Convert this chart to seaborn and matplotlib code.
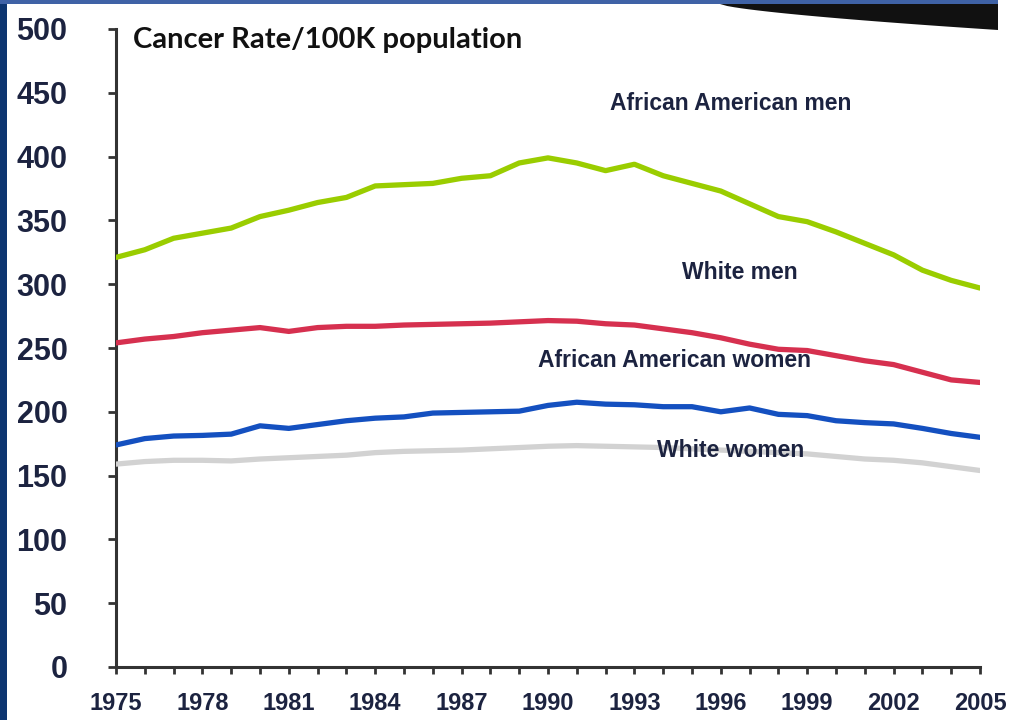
import numpy as np
import pandas as pd
import matplotlib
matplotlib.use("Agg")
import matplotlib.pyplot as plt
from matplotlib.patches import Rectangle, Polygon
import seaborn as sns

# Annual cancer incidence per 100K population, 1975-2005
years = list(range(1975, 2006))
green_series = [321, 327, 336, 340, 344, 353, 358, 364, 368, 377, 378, 379, 383, 385, 395,
                399, 395, 389, 394, 385, 379, 373, 363, 353, 349, 341, 332, 323, 311, 303, 297]
red_series = [254, 257, 259, 262, 264, 266, 263, 266, 267, 267, 268, 268.5, 269, 269.5, 270.5,
              271.5, 271, 269, 268, 265, 262, 258, 253, 249, 248, 244, 240, 237, 231, 225, 223]
blue_series = [174, 179, 181, 181.5, 182.5, 189, 187, 190, 193, 195, 196, 199, 199.5, 200, 200.5,
               205, 207.5, 206, 205.5, 204, 204, 200, 203, 198, 197, 193, 191.5, 190.5, 187, 183, 180]
gray_series = [159, 161, 162, 162, 161.5, 163, 164, 165, 166, 168, 169, 169.5, 170, 171, 172,
               173, 173.5, 173, 172.5, 172, 171, 170, 169, 168, 167, 165, 163, 162, 160, 157, 154]

series_names = ["green", "red", "blue", "gray"]
series_colors = ["#9acd00", "#d6304f", "#1450c0", "#d2d2d2"]

# Text annotations placed in the plot area
label_texts = ["African American men", "White men", "African American women", "White women"]
label_x = [1992.15, 1994.65, 1989.65, 1993.8]
label_y = [442, 309, 240, 170]

title_text = "Cancer Rate/100K population"
y_ticks = list(range(0, 501, 50))
x_tick_years = list(range(1975, 2006, 3))

df = pd.DataFrame({
    "year": years * 4,
    "rate": green_series + red_series + blue_series + gray_series,
    "series": sum([[n] * len(years) for n in series_names], []),
})

sns.set_theme(style="ticks")
plt.rcParams["font.family"] = ["Liberation Sans", "DejaVu Sans"]

fig = plt.figure(figsize=(10.17, 7.2), dpi=100)
fig.patch.set_facecolor("white")
ax = fig.add_axes([116 / 1017, 1 - 667 / 720, (980 - 116) / 1017, (667 - 29) / 720])
ax.set_facecolor("white")

sns.lineplot(data=df, x="year", y="rate", hue="series", hue_order=series_names,
             palette=dict(zip(series_names, series_colors)), linewidth=3.8,
             legend=False, ax=ax, zorder=3)

ax.set_xlim(1975, 2005)
ax.set_ylim(0, 500)
ax.set_xlabel("")
ax.set_ylabel("")

for side in ("top", "right"):
    ax.spines[side].set_visible(False)
for side in ("left", "bottom"):
    ax.spines[side].set_color("#333333")
    ax.spines[side].set_linewidth(2.2)

text_color = "#1c2340"
ax.set_yticks(y_ticks)
ax.set_yticklabels([str(v) for v in y_ticks], fontsize=22, fontweight="bold", color=text_color)
ax.set_xticks(years, minor=True)
ax.set_xticks(x_tick_years)
ax.set_xticklabels([str(v) for v in x_tick_years], fontsize=17, fontweight="bold", color=text_color)
ax.tick_params(axis="y", direction="out", length=6, width=2, color="#333333", pad=29)
ax.tick_params(axis="x", which="both", direction="out", length=5, width=2, color="#333333", pad=13)

ax.text(1975.6, 491, title_text, fontsize=21, fontweight="bold", color="#111111",
        family=["Lato", "DejaVu Sans"], va="center", ha="left")

for txt, lx, ly in zip(label_texts, label_x, label_y):
    ax.text(lx, ly, txt, fontsize=16.5, fontweight="bold", color=text_color,
            va="center", ha="left", zorder=4)

# Slide frame: navy edge on the left, blue band on top, dark swoosh top right
fig.patches.append(Rectangle((0, 0), 7 / 1017, 1, transform=fig.transFigure,
                             facecolor="#0d3570", edgecolor="none", zorder=10))
fig.patches.append(Rectangle((0, 1 - 4 / 720), 998 / 1017, 4 / 720, transform=fig.transFigure,
                             facecolor="#3f62a6", edgecolor="none", zorder=10))
sx = np.linspace(720, 998, 40)
sy = 4 + 26 * ((sx - 720) / 278) ** 0.7
pts = [(x / 1017, 1 - y / 720) for x, y in zip(sx, sy)] + [(998 / 1017, 1 - 4 / 720)]
fig.patches.append(Polygon(pts, closed=True, transform=fig.transFigure,
                           facecolor="#111111", edgecolor="none", zorder=9))

fig.savefig("out.png", dpi=100, facecolor="white")
